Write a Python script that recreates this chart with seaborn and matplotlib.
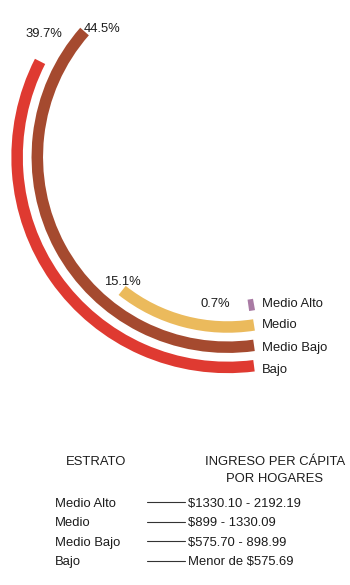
import numpy as np
import matplotlib
matplotlib.use("Agg")
import matplotlib.pyplot as plt
from matplotlib.lines import Line2D
import seaborn as sns

# Data
estratos = ["Medio Alto", "Medio", "Medio Bajo", "Bajo"]
porcentajes = [0.7, 15.1, 44.5, 39.7]
colores = ["#A97BA4", "#EBBA5C", "#A54A2F", "#DF3A31"]
ingresos = ["$1330.10 - 2192.19", "$899 - 1330.09", "$575.70 - 898.99", "Menor de $575.69"]

sns.set_theme(style="white")
plt.rcParams["font.family"] = ["Liberation Sans", "DejaVu Sans"]

W, H = 350, 585
fig = plt.figure(figsize=(W / 100, H / 100), dpi=100)
fig.patch.set_facecolor("white")


def fx(x):
    return x / W


def fy(y):
    return 1 - y / H


# Polar axes: centre of rings and radius range in pixels
cx, cy, rmax = 227.5, 157.0, 220.0
ax = fig.add_axes([fx(cx - rmax), fy(cy + rmax), 2 * rmax / W, 2 * rmax / H],
                  projection="polar")
ax.set_theta_zero_location("S")
ax.set_theta_direction(-1)
ax.set_ylim(0, rmax)
ax.axis("off")

# Ring layout: innermost ring first, all bars start on a common vertical line
r_inner, r_step, thick = 149.8, 20.2, 11.5
x_start = 254.0 - cx
deg_per_pct = 3.13
radios = [r_inner + i * r_step for i in range(len(estratos))]
for r, val, col in zip(radios, porcentajes, colores):
    start = -np.arcsin(x_start / r)
    ax.barh(r, np.deg2rad(val * deg_per_pct), left=start, height=thick,
            color=col, edgecolor="none", align="center")

txt_kw = dict(fontsize=9.4, color="#1c1c1c")

# Percentage labels near the end of each arc
pct_pos = {"Medio Alto": (215, 307.3), "Medio": (122, 285),
           "Medio Bajo": (102.5, 31.7), "Bajo": (44, 37.3)}
for name, val in zip(estratos, porcentajes):
    x, y = pct_pos[name]
    fig.text(fx(x), fy(y), f"{val:.1f}%", ha="center", va="baseline", **txt_kw)

# Category labels to the right of the bars
for name, y in zip(estratos, [306.7, 328.3, 351.0, 373.4]):
    fig.text(fx(261.7), fy(y), name, ha="left", va="baseline", **txt_kw)

# Income table
fig.text(fx(96), fy(465), "ESTRATO", ha="center", va="baseline", **txt_kw)
fig.text(fx(275), fy(465), "INGRESO PER CÁPITA", ha="center", va="baseline", **txt_kw)
fig.text(fx(274), fy(481.7), "POR HOGARES", ha="center", va="baseline", **txt_kw)
for i, (name, ing) in enumerate(zip(estratos, ingresos)):
    yb = 506.7 + i * 19.55
    fig.text(fx(55), fy(yb), name, ha="left", va="baseline", **txt_kw)
    fig.text(fx(188.3), fy(yb), ing, ha="left", va="baseline", **txt_kw)
    yl = yb - 4.4
    fig.add_artist(Line2D([fx(146.7), fx(185)], [fy(yl), fy(yl)],
                          transform=fig.transFigure, color="#333333", lw=0.8))

fig.savefig("out.png", dpi=100, facecolor="white")
